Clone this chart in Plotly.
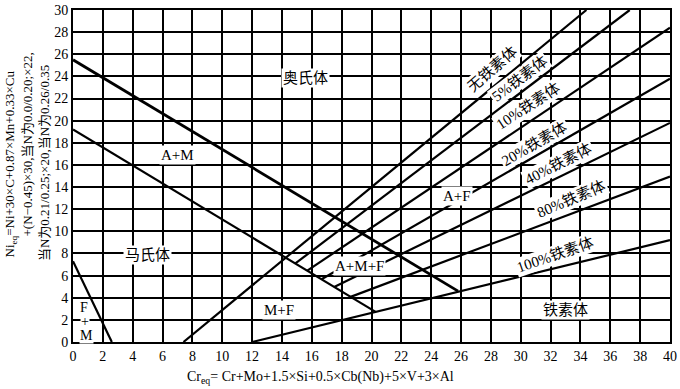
import plotly.graph_objects as go

# ---- data ----
x_ticks = list(range(0, 41, 2))
y_ticks = list(range(0, 31, 2))

line_names = ["A boundary", "M boundary", "F+M boundary", "0%", "5%", "10%", "20%", "40%", "80%", "100%"]
line_x = [[0, 25.8], [0, 20.3], [0, 2.6], [7.4, 34.4], [14.9, 37.3], [15.7, 40], [16.65, 40], [17.5, 40], [18.6, 40], [12, 40]]
line_y = [[25.5, 4.6], [19.2, 2.7], [7.3, 0], [0, 30], [7.1, 30], [6.45, 28.4], [5.67, 23.8], [4.98, 19.8], [4.08, 14.95], [0, 9.2]]
line_w = [2.8, 2.2, 2.2, 2.2, 2.2, 2.2, 2.2, 2.2, 2.2, 2.2]

region_text = ["奥氏体", "A+M", "马氏体", "F", "+", "M", "M+F", "A+M+F", "A+F", "铁素体"]
region_x = [15.6, 7.0, 5.0, 0.75, 0.8, 0.9, 13.8, 19.2, 25.7, 33.0]
region_y = [23.9, 16.9, 7.9, 3.1, 1.85, 0.6, 2.9, 6.9, 13.2, 2.9]

ferrite_text = ["无铁素体", "5%铁素体", "10%铁素体", "20%铁素体", "40%铁素体", "80%铁素体", "100%铁素体"]
ferrite_x = [28.1, 29.9, 30.5, 30.9, 32.5, 33.4, 32.3]
ferrite_y = [24.7, 23.8, 21.3, 17.9, 16.1, 12.9, 7.9]
ferrite_angle = [-41, -37, -33, -30, -27, -23, -19]

FONT = "Liberation Serif, Noto Sans CJK SC, serif"

fig = go.Figure()
for name, xs, ys, w in zip(line_names, line_x, line_y, line_w):
    fig.add_trace(go.Scatter(x=xs, y=ys, mode="lines", name=name,
                             line=dict(color="black", width=w), showlegend=False,
                             hoverinfo="skip"))

annotations = []
for t, x, y in zip(region_text, region_x, region_y):
    small = t in ("F", "+", "M")
    annotations.append(dict(x=x, y=y, xref="x", yref="y", text=t, showarrow=False,
                            xanchor="center", yanchor="middle",
                            font=dict(family=FONT, size=14 if small else 15, color="black"),
                            bgcolor="white", borderpad=0 if small else 1))
for t, x, y, a in zip(ferrite_text, ferrite_x, ferrite_y, ferrite_angle):
    annotations.append(dict(x=x, y=y, xref="x", yref="y", text=t, showarrow=False,
                            xanchor="center", yanchor="middle",
                            textangle=a, font=dict(family=FONT, size=15, color="black"),
                            bgcolor="white", borderpad=1))

# axis titles
annotations.append(dict(x=(323 - 73) / 604, y=(342 - 378) / 337, xref="paper", yref="paper",
                        showarrow=False, xanchor="center", yanchor="middle",
                        text="Cr<sub>eq</sub>= Cr+Mo+1.5×Si+0.5×Cb(Nb)+5×V+3×Al",
                        font=dict(family=FONT, size=14, color="black")))
ytitle_lines = ["Ni<sub>eq</sub>=Ni+30×C+0.87×Mn+0.33×Cu",
                "+(N−0.45)×30,当N为0.0/0.20;×22,",
                "当N为0.21/0.25;×20,当N为0.26/0.35"]
ytitle_px = [10, 27, 44]
ytitle_py = [161, 142, 160]
for t, px, py in zip(ytitle_lines, ytitle_px, ytitle_py):
    annotations.append(dict(x=(px - 73) / 604, y=(342 - py) / 337, xref="paper", yref="paper",
                            showarrow=False, textangle=-90, text=t,
                            xanchor="center", yanchor="middle",
                            font=dict(family=FONT, size=13, color="black")))

fig.update_layout(
    width=680, height=389,
    margin=dict(l=73, r=3, t=5, b=47),
    plot_bgcolor="white", paper_bgcolor="white",
    annotations=annotations,
    xaxis=dict(range=[0, 40], tickvals=x_ticks, ticktext=[str(v) for v in x_ticks],
               showgrid=True, gridcolor="black", gridwidth=1.5, zeroline=False,
               showline=True, linecolor="black", linewidth=2, mirror=True,
               ticks="", ticklabeloverflow="allow",
               tickfont=dict(family=FONT, size=14, color="black")),
    yaxis=dict(range=[0, 30], tickvals=y_ticks, ticktext=[str(v) for v in y_ticks],
               showgrid=True, gridcolor="black", gridwidth=1.5, zeroline=False,
               showline=True, linecolor="black", linewidth=2, mirror=True,
               ticks="", ticklabeloverflow="allow",
               tickfont=dict(family=FONT, size=14, color="black")),
)

fig.write_html("out.html")
